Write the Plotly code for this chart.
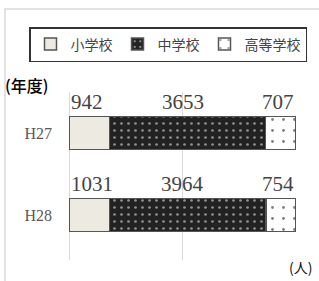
import plotly.graph_objects as go

years = ["H27", "H28"]
series_names = ["小学校", "中学校", "高等学校"]
elementary = [942, 1031]
junior_high = [3653, 3964]
high_school = [707, 754]

W, H = 319, 281
ml, mr, mt, mb = 69, 23, 92, 21
pw, ph = W - ml - mr, H - mt - mb

def px(x):
    return (x - ml) / pw

def py(y):
    return 1 - (y - mt) / ph

fig = go.Figure()
fig.add_trace(go.Bar(
    y=years, x=elementary, name=series_names[0], orientation="h",
    marker=dict(color="#EDEBE1", line=dict(color="#555555", width=1.5)),
))
fig.add_trace(go.Bar(
    y=years, x=junior_high, name=series_names[1], orientation="h",
    marker=dict(color="#222222", line=dict(color="#555555", width=1.5),
                pattern=dict(shape=".", fgcolor="#ffffff", bgcolor="#222222",
                             size=7, solidity=0.12)),
))
fig.add_trace(go.Bar(
    y=years, x=high_school, name=series_names[2], orientation="h",
    marker=dict(color="#ffffff", line=dict(color="#555555", width=1.5),
                pattern=dict(shape=".", fgcolor="#000000", bgcolor="#ffffff",
                             size=11, solidity=0.05)),
))

annotations = []
series = [elementary, junior_high, high_school]
anchors = [(0, "left"), (50, "center"), (100, "right")]
for i, yr in enumerate(years):
    for s, (xa, anc) in zip(series, anchors):
        annotations.append(dict(
            x=xa, y=yr, xref="x", yref="y", text=str(s[i]), showarrow=False,
            xanchor=anc, yanchor="middle", yshift=31,
            font=dict(family="Liberation Serif, serif", size=21, color="#444444"),
        ))

annotations.append(dict(x=px(3), y=py(85), xref="paper", yref="paper", text="(年度)",
                        showarrow=False, xanchor="left", yanchor="middle",
                        font=dict(family="Noto Sans CJK JP", size=16, color="#000000",
                                  weight=500)))
annotations.append(dict(x=px(314), y=py(267), xref="paper", yref="paper", text="(人)",
                        showarrow=False, xanchor="right", yanchor="middle",
                        font=dict(family="Noto Sans CJK JP", size=14, color="#111111")))

fig.update_layout(
    width=W, height=H,
    margin=dict(l=ml, r=mr, t=mt, b=mb, pad=0, autoexpand=False),
    barmode="stack", barnorm="percent", bargap=0.6,
    plot_bgcolor="#ffffff", paper_bgcolor="#ffffff",
    showlegend=True,
    legend=dict(orientation="h", xref="paper", yref="paper",
                x=px(29), xanchor="left",
                y=py(27), yanchor="top",
                bordercolor="#333333", borderwidth=1.5, bgcolor="#ffffff",
                font=dict(family="Noto Sans CJK JP", size=14, color="#444444"),
                itemwidth=30, traceorder="normal"),
    xaxis=dict(range=[0, 100], dtick=50, showticklabels=False, showgrid=True,
               gridcolor="#d9d9d9", gridwidth=1, zeroline=True, zerolinecolor="#d9d9d9",
               zerolinewidth=1, showline=False, fixedrange=True, automargin=False),
    yaxis=dict(autorange="reversed", showgrid=False, showline=False, ticks="",
               ticklabelstandoff=16, automargin=False, fixedrange=True,
               tickfont=dict(family="Liberation Serif, serif", size=16, color="#595959")),
    annotations=annotations,
    shapes=[dict(type="rect", xref="paper", yref="paper",
                 x0=px(5), x1=px(330), y0=py(295), y1=py(9),
                 line=dict(color="#d9d9d9", width=1.5), layer="below")],
)

fig.write_html("out.html", config={"displayModeBar": False},
               post_script="document.body.style.margin='0';document.body.style.padding='0';")
